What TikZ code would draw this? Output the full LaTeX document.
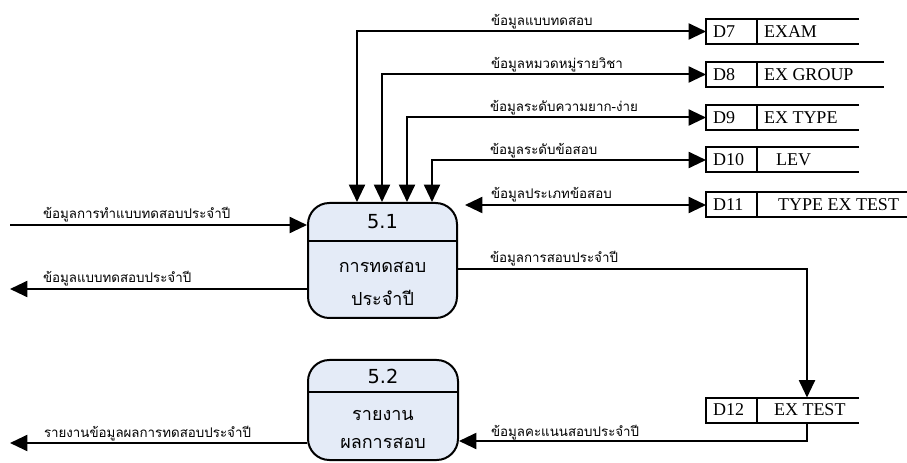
\documentclass[tikz,border=0pt]{standalone}
\usepackage{fontspec}
\setmainfont{Liberation Serif}
\newfontfamily\thaifont[Script=Thai]{Loma}
\newfontfamily\numfont{DejaVu Sans}
\usetikzlibrary{arrows.meta,calc}
\definecolor{procfill}{RGB}{228,235,247}
\begin{document}
\begin{tikzpicture}[x=0.75pt,y=-0.75pt,line width=1.5pt,
  arr/.style={-{Triangle[length=13pt,width=12pt]}},
  darr/.style={{Triangle[length=13pt,width=12pt]}-{Triangle[length=13pt,width=12pt]}},
  proc/.style={draw, rounded corners=16pt, fill=procfill, minimum width=111.75pt, inner sep=0pt},
  ptitle/.style={font=\numfont\fontsize{14.5}{16}\selectfont, inner sep=0pt},
  ptext/.style={font=\thaifont\fontsize{13.5}{15}\selectfont, inner sep=0pt},
  lbl/.style={font=\thaifont\fontsize{10}{12}\selectfont, anchor=base west, inner sep=0pt},
  storebox/.style={minimum height=17.25pt, inner sep=0pt, anchor=west},
  stext/.style={font=\fontsize{13.5}{15}\selectfont, anchor=west, inner sep=0pt}
]
\useasboundingbox (0,0) rectangle (907,463);

% processes
\node[proc, minimum height=86.25pt] (p1) at (382.5,260.5) {};
\draw ($(p1.north west)+(0,39)$) -- ($(p1.north east)+(0,39)$);
\node[ptitle] (p1n) at (382.5,222) {5.1};
\node[ptext] (p1a) at (382.5,267) {การทดสอบ};
\node[ptext] (p1b) at (382.5,298) {ประจำปี};

\node[proc, minimum height=75pt, minimum width=112.5pt] (p2) at (383,410) {};
\draw ($(p2.north west)+(0,33)$) -- ($(p2.north east)+(0,33)$);
\node[ptitle] (p2n) at (383,376) {5.2};
\node[ptext] (p2a) at (383,415) {รายงาน};
\node[ptext] (p2b) at (383,443) {ผลการสอบ};

% data stores
\foreach \n/\id/\lab/\y/\w/\lx in {
  d7/D7/EXAM/31.5/151/763,
  d8/D8/EX GROUP/74.5/176/763,
  d9/D9/EX TYPE/117.5/151/763,
  d10/D10/LEV/160/151/775,
  d11/D11/TYPE EX TEST/205/201/777,
  d12/D12/EX TEST/410/151/773}{
  \node[storebox, minimum width=\w*0.75pt] (\n) at (706,\y) {};
  \draw (\n.north east) -- (\n.north west) -- (\n.south west) -- (\n.south east);
  \draw ($(\n.north west)+(51,0)$) -- ($(\n.south west)+(51,0)$);
  \node[stext] (\n id) at ($(\n.west)+(6,0)$) {\id};
  \node[stext] (\n lab) at (\lx,\y) {\lab};
}

% connectors to stores
\draw[darr] ($(p1.north west)+(50,0)$) |- (d7.west);
\draw[darr] ($(p1.north west)+(75,0)$) |- (d8.west);
\draw[darr] ($(p1.north west)+(100,0)$) |- (d9.west);
\draw[darr] ($(p1.north west)+(125,0)$) |- (d10.west);
\coordinate (c11) at (465,205);
\draw[darr] (c11) -- (d11.west);
\draw[arr] ($(p1.north east)+(0,67)$) -| ($(d12.north west)+(101,0)$);
\draw[arr] ($(d12.south west)+(101,0)$) |- ($(p2.north east)+(0,82)$);

% external flows
\coordinate (in1) at (10,225);
\coordinate (out1) at (10,289);
\coordinate (out2) at (10,443);
\draw[arr] (in1) -- (in1 -| p1.west);
\draw[arr] (out1 -| p1.west) -- (out1);
\draw[arr] (out2 -| p2.west) -- (out2);

% labels
\node[lbl] (l1) at (490,26) {ข้อมูลแบบทดสอบ};
\node[lbl] (l2) at (490,69) {ข้อมูลหมวดหมู่รายวิชา};
\node[lbl] (l3) at (489,112) {ข้อมูลระดับความยาก-ง่าย};
\node[lbl] (l4) at (489,155) {ข้อมูลระดับข้อสอบ};
\node[lbl] (l5) at (490,199) {ข้อมูลประเภทข้อสอบ};
\node[lbl] (l6) at (489,263) {ข้อมูลการสอบประจำปี};
\node[lbl] (l7) at (490,436) {ข้อมูลคะแนนสอบประจำปี};
\node[lbl] (l8) at (42,219) {ข้อมูลการทำแบบทดสอบประจำปี};
\node[lbl] (l9) at (42,283) {ข้อมูลแบบทดสอบประจำปี};
\node[lbl] (l10) at (43,437) {รายงานข้อมูลผลการทดสอบประจำปี};
\end{tikzpicture}
\end{document}
